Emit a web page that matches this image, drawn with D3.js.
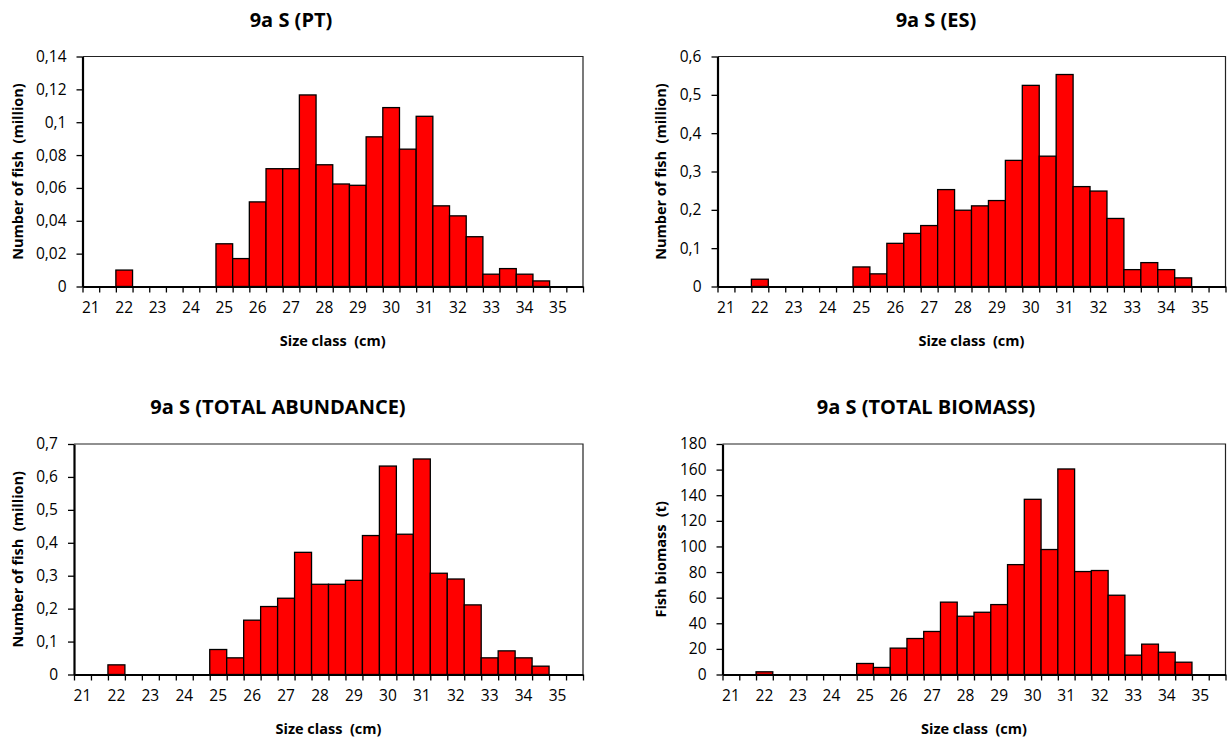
<!DOCTYPE html>
<html>
<head>
<meta charset="utf-8">
<script src="https://cdn.jsdelivr.net/npm/d3@7"></script>
<style>
  html, body { margin: 0; padding: 0; background: #fff; }
  svg { display: block; }
  text { font-family: "Open Sans", "Noto Sans", sans-serif; fill: #000; }
</style>
</head>
<body>
<svg id="chart" width="1229" height="742"></svg>
<script>
// Size classes (cm), half-centimetre bins
const sizeClasses = [21, 21.5, 22, 22.5, 23, 23.5, 24, 24.5, 25, 25.5, 26, 26.5, 27, 27.5, 28,
  28.5, 29, 29.5, 30, 30.5, 31, 31.5, 32, 32.5, 33, 33.5, 34, 34.5, 35, 35.5];

// Abundance in Portuguese waters (million fish)
const abundancePT = [0, 0, 0.010, 0, 0, 0, 0, 0, 0.026, 0.017, 0.0515, 0.0717, 0.0717, 0.1166, 0.0741,
  0.0624, 0.0616, 0.0911, 0.1089, 0.0836, 0.1036, 0.0491, 0.043, 0.0303, 0.0075, 0.0109, 0.0075, 0.0034, 0, 0];

// Abundance in Spanish waters (million fish)
const abundanceES = [0, 0, 0.019, 0, 0, 0, 0, 0, 0.051, 0.033, 0.1126, 0.1385, 0.159, 0.2528, 0.199,
  0.2104, 0.2242, 0.329, 0.5247, 0.340, 0.553, 0.2606, 0.249, 0.1775, 0.044, 0.0623, 0.044, 0.0225, 0, 0];

// Total abundance (million fish)
const abundanceTotal = [0, 0, 0.0293, 0, 0, 0, 0, 0, 0.0759, 0.0506, 0.165, 0.2064, 0.2316, 0.371, 0.274,
  0.274, 0.286, 0.422, 0.633, 0.426, 0.6545, 0.3075, 0.290, 0.2114, 0.0506, 0.0718, 0.0506, 0.0253, 0, 0];

// Total biomass (t)
const biomassTotal = [0, 0, 2.1, 0, 0, 0, 0, 0, 8.6, 5.5, 20.6, 28.1, 33.6, 56.5, 45.5,
  48.6, 54.6, 85.8, 136.8, 97.6, 160.5, 80.4, 81.2, 61.9, 15.1, 23.7, 17.4, 9.6, 0, 0];

// Axis tick values
const ticksPT = [0, 0.02, 0.04, 0.06, 0.08, 0.1, 0.12, 0.14];
const ticksES = [0, 0.1, 0.2, 0.3, 0.4, 0.5, 0.6];
const ticksTotal = [0, 0.1, 0.2, 0.3, 0.4, 0.5, 0.6, 0.7];
const ticksBiomass = [0, 20, 40, 60, 80, 100, 120, 140, 160, 180];
const xLabelClasses = [21, 22, 23, 24, 25, 26, 27, 28, 29, 30, 31, 32, 33, 34, 35];

const titles = ["9a S (PT)", "9a S (ES)", "9a S (TOTAL ABUNDANCE)", "9a S (TOTAL BIOMASS)"];
const yTitles = ["Number of fish  (million)", "Number of fish  (million)",
  "Number of fish  (million)", "Fish biomass  (t)"];
const xTitle = "Size class  (cm)";

// Panel layout
const panels = [
  { values: abundancePT,    ticks: ticksPT,      title: titles[0], yTitle: yTitles[0],
    left: 82.5,  right: 583,    top: 56.5, bottom: 286.5, titleX: 291, yTitleX: 18 },
  { values: abundanceES,    ticks: ticksES,      title: titles[1], yTitle: yTitles[1],
    left: 717.5, right: 1225.5, top: 56.5, bottom: 286.5, titleX: 936, yTitleX: 661 },
  { values: abundanceTotal, ticks: ticksTotal,   title: titles[2], yTitle: yTitles[2],
    left: 74,    right: 583,    top: 444,  bottom: 674.5, titleX: 278, yTitleX: 18 },
  { values: biomassTotal,   ticks: ticksBiomass, title: titles[3], yTitle: yTitles[3],
    left: 722.5, right: 1225.5, top: 444,  bottom: 674.5, titleX: 926, yTitleX: 661 }
];

const fmt = v => String(+v.toFixed(4)).replace(".", ",");
const svg = d3.select("#chart");

panels.forEach(p => {
  const g = svg.append("g");
  const x = d3.scaleBand().domain(sizeClasses).range([p.left, p.right]).padding(0);
  const xEdge = d3.scaleLinear().domain([0, sizeClasses.length]).range([p.left, p.right]);
  const y = d3.scaleLinear().domain([0, d3.max(p.ticks)]).range([p.bottom, p.top]);

  // Plot frame (thin top and right edges)
  g.append("path")
    .attr("d", `M${p.left},${p.top}H${p.right}V${p.bottom}`)
    .attr("fill", "none").attr("stroke", "#222").attr("stroke-width", 1.2);

  // Bars
  g.selectAll("rect.bar")
    .data(sizeClasses.map((c, i) => ({ c, v: p.values[i] })).filter(d => d.v > 0))
    .join("rect")
    .attr("class", "bar")
    .attr("x", d => x(d.c))
    .attr("width", x.bandwidth())
    .attr("y", d => y(d.v))
    .attr("height", d => y(0) - y(d.v))
    .attr("fill", "#ff0000")
    .attr("stroke", "#000")
    .attr("stroke-width", 1.3);

  // Y axis
  const yAxis = g.append("g")
    .attr("transform", `translate(${p.left},0)`)
    .call(d3.axisLeft(y).tickValues(p.ticks).tickFormat(fmt).tickSize(6).tickPadding(10).tickSizeOuter(0));
  yAxis.select(".domain").attr("stroke-width", 2.2).attr("stroke", "#000");
  yAxis.selectAll(".tick line").attr("stroke-width", 1.3);
  yAxis.selectAll("text").attr("font-size", 15.5).attr("font-family", "Open Sans, sans-serif").attr("fill", "#000");

  // X axis: tick marks on bin edges
  const xAxis = g.append("g")
    .attr("transform", `translate(0,${p.bottom})`)
    .call(d3.axisBottom(xEdge).tickValues(d3.range(sizeClasses.length + 1)).tickFormat("").tickSize(6).tickSizeOuter(0));
  xAxis.select(".domain").attr("stroke-width", 2.2).attr("stroke", "#000");
  xAxis.selectAll(".tick line").attr("stroke-width", 1.3);

  // X labels on whole centimetres
  const xLab = g.append("g")
    .attr("transform", `translate(0,${p.bottom})`)
    .call(d3.axisBottom(x).tickValues(xLabelClasses).tickFormat(d3.format("d")).tickSize(0).tickPadding(15));
  xLab.select(".domain").remove();
  xLab.selectAll("text").attr("font-size", 15.5).attr("font-family", "Open Sans, sans-serif").attr("fill", "#000");

  // Titles
  g.append("text")
    .attr("x", p.titleX).attr("y", p.top - 30)
    .attr("text-anchor", "middle")
    .attr("font-size", 20).attr("font-weight", "bold")
    .text(p.title);

  g.append("text")
    .attr("x", (p.left + p.right) / 2).attr("y", p.bottom + 59)
    .attr("text-anchor", "middle")
    .attr("font-size", 14.5).attr("font-weight", "bold")
    .attr("xml:space", "preserve")
    .text(xTitle);

  g.append("text")
    .attr("transform", `translate(${p.yTitleX + 5},${(p.top + p.bottom) / 2}) rotate(-90)`)
    .attr("text-anchor", "middle")
    .attr("font-size", 14.5).attr("font-weight", "bold")
    .attr("xml:space", "preserve")
    .text(p.yTitle);
});
</script>
</body>
</html>
